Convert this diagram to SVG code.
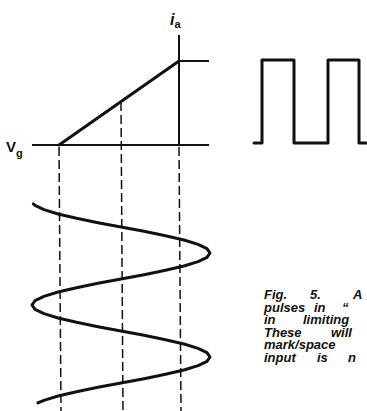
<svg xmlns="http://www.w3.org/2000/svg" width="367" height="411" viewBox="0 0 367 411">
<style>
.axis{stroke:#111;stroke-width:2;fill:none}
.thick{stroke:#111;stroke-width:3;fill:none;stroke-linecap:round;stroke-linejoin:round}
.dash{stroke:#111;stroke-width:1.5;fill:none;stroke-dasharray:9 4}
.cap{font-family:"Liberation Sans",Arial,sans-serif;font-style:italic;font-weight:bold;font-size:13px;fill:#111}
.lab{font-family:"Liberation Sans",Arial,sans-serif;font-weight:bold;fill:#111}
</style>
<rect width="367" height="411" fill="#fff"/>
<g id="axes">
<line class="axis" x1="32" y1="145" x2="209" y2="145"/>
<line class="axis" x1="179" y1="35" x2="179" y2="145"/>
<line class="axis" x1="179" y1="61" x2="209" y2="61"/>
</g>
<g id="transfer">
<polyline class="thick" points="59,145 179,61"/>
</g>
<g id="connectors">
<line class="dash" x1="59" y1="147" x2="61" y2="411"/>
<line class="dash" x1="121" y1="102" x2="123" y2="411"/>
<line class="dash" x1="179" y1="147" x2="181" y2="411"/>
</g>
<g id="sine">
<polyline class="thick" points="33.35,203.89 35.03,205.33 43.93,209.67 58.07,214 76.5,218.33 97.97,222.67 121,227 144.03,231.33 165.5,235.67 183.93,240 198.07,244.33 206.97,248.67 210,253 206.97,257.33 198.07,261.67 183.93,266 165.5,270.33 144.03,274.67 121,279 97.97,283.33 76.5,287.67 58.07,292 43.93,296.33 35.03,300.67 32,305 35.03,309.33 43.93,313.67 58.07,318 76.5,322.33 97.97,326.67 121,331 144.03,335.33 165.5,339.67 183.93,344 198.07,348.33 206.97,352.67 210,357 206.97,361.33 198.07,365.67 183.93,370 165.5,374.33 144.03,378.67 121,383 97.97,387.33 76.5,391.67 58.07,396 43.93,400.33 37.91,402.93"/>
</g>
<g id="square-wave">
<polyline class="thick" points="254,143 262,143 262,60 294,60 294,143 328,143 328,60 359,60 359,143 368,143"/>
</g>
<g id="labels">
<text class="lab" x="6" y="152" font-size="15">V<tspan font-size="11" dy="5">g</tspan></text>
<text class="lab" x="170" y="25" font-size="16" font-style="italic" font-family="Liberation Serif,serif">i<tspan font-size="11" dy="3" font-family="Liberation Sans,sans-serif" font-style="normal">a</tspan></text>
</g>
<g id="caption" class="cap">
<text x="264" y="299">Fig.</text><text x="310" y="299">5.</text><text x="353" y="299">A</text>
<text x="264" y="311.5">pulses</text><text x="314" y="311.5">in</text><text x="342" y="311.5">“</text>
<text x="264" y="324">in</text><text x="303" y="324">limiting</text>
<text x="264" y="336.5">These</text><text x="331" y="336.5">will</text>
<text x="264" y="349">mark/space</text>
<text x="264" y="361.5">input</text><text x="317" y="361.5">is</text><text x="348" y="361.5">n</text>
</g>
</svg>
